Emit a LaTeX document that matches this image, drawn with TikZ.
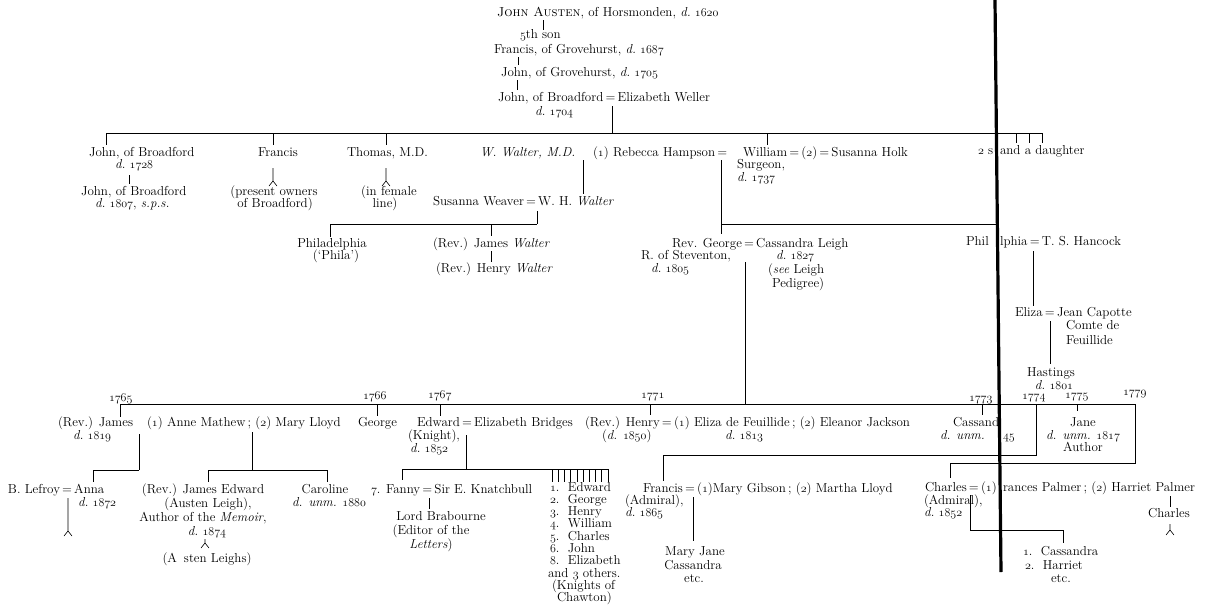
\documentclass[tikz,border=0pt]{standalone}
\newcommand\osn[1]{{\usefont{OML}{cmm}{m}{it}#1}}
\newcommand\dd{\textit{d.}\ }
\tikzset{
  t/.style={anchor=base west, inner sep=0pt, outer sep=0pt},
  tc/.style={anchor=base, inner sep=0pt, outer sep=0pt},
  ln/.style={line width=0.6pt},
  fold/.style={line width=3.2pt, black},
  every node/.style={font=\fontsize{13}{13}\selectfont}
}
\newcommand\fork[3]{\draw[ln] (#1,#2) -- (#1,#3) (#1-4,#3+5) -- (#1,#3) -- (#1+4,#3+5);}
\begin{document}
\begin{tikzpicture}[x=1pt,y=-1pt]
\useasboundingbox (0,0) rectangle (1208,614);
\fill[white] (0,0) rectangle (1208,614);
% ---------- top line ----------
\node[t] (ja) at (497,16) {\textsc{John Austen}, of Horsmonden, \dd\osn{1620}};
\node[t] (fifth) at (520,38) {\osn{5}th son};
\node[t] (frg) at (494,53) {Francis, of Grovehurst, \dd\osn{1687}};
\node[t] (jg) at (501,76) {John, of Grovehurst, \dd\osn{1705}};
\node[t] (jbw) at (498,101) {John, of Broadford\,=\,Elizabeth Weller};
\node[t] (d1704) at (535,115) {\dd\osn{1704}};
\draw[ln] (543,20) -- (543,30);
\draw[ln] (518,57) -- (518,65);
\draw[ln] (517,80) -- (517,90);
\coordinate (wtop) at (612,106);
\coordinate (hl) at (106,133);
\coordinate (hr) at (1042,133);
\draw[ln] (wtop) -- (612,133);
\draw[ln] (hl) -- (hr);
\foreach \x in {106,273,386,767} \draw[ln] (\x,133) -- (\x,145);
\foreach \x in {1016,1029,1042} \draw[ln] (\x,133) -- (\x,143);
% ---------- second generation ----------
\node[t] (jb1) at (89,156) {John, of Broadford};
\node[t] (d1728) at (115,168) {\dd\osn{1728}};
\draw[ln] (129,175) -- (129,184);
\node[t] (jb2) at (81,195) {John, of Broadford};
\node[t] (d1807) at (95,207) {\dd\osn{1807}, \textit{s.p.s.}};
\node[tc] (fra) at (278,156) {Francis};
\fork{273}{168}{181}
\node[tc] (pres) at (274,195) {(present owners};
\node[tc] (ofb) at (275,207) {of Broadford)};
\node[t] (tho) at (347,156) {Thomas, M.D.};
\fork{386}{168}{181}
\node[tc] (infem) at (389,195) {(in female};
\node[tc] (line) at (385,207) {line)};
\node[t] (wwal) at (480,156) {\textit{W. Walter, M.D.}};
\node[t] (reb) at (593,156) {(\osn{1}) Rebecca Hampson\,=};
\node[t] (wil) at (743,156) {William\,=\,(\osn{2})\,=\,Susanna Holk};
\node[t] (surg) at (737,168) {Surgeon,};
\node[t] (d1737) at (737,181) {\dd\osn{1737}};
\node[t] (twos) at (978,154) {\osn{2} s};
\node[t] (daug) at (1000,154) {and a daughter};
% Walter branch
\draw[ln] (583,160) -- (583,194);
\node[t] (susw) at (433,205) {Susanna Weaver\,=\,W. H. \textit{Walter}};
\draw[ln] (537,211) -- (537,224);
\draw[ln] (330,224) -- (537,224);
\draw[ln] (330,224) -- (330,237);
\draw[ln] (491,224) -- (491,236);
\node[tc] (phil) at (332,247) {Philadelphia};
\node[tc] (phila) at (336,259) {(`Phila')};
\node[t] (jwal) at (433,247) {(Rev.) James \textit{Walter}};
\draw[ln] (491,251) -- (491,262);
\node[t] (hwal) at (436,272) {(Rev.) Henry \textit{Walter}};
% Rebecca / William children
\draw[ln] (721,160) -- (721,234);
\draw[ln] (721,224) -- (996,224);
\draw[ln] (996,224) -- (996,234);
\node[t] (geo) at (672,247) {Rev. George\,=\,Cassandra Leigh};
\node[t] (stev) at (641,259) {R. of Steventon,};
\node[t] (d1805) at (651,272) {\dd\osn{1805}};
\node[t] (d1827) at (776,259) {\dd\osn{1827}};
\node[t] (seel) at (768,273) {(\textit{see} Leigh};
\node[t] (pedi) at (772,287) {Pedigree)};
\node[t] (phl1) at (966,245) {Phil};
\node[t] (phl2) at (1000,245) {lphia\,=\,T. S. Hancock};
\draw[ln] (1033,251) -- (1033,306);
\node[t] (eliza) at (1015,316) {Eliza\,=\,Jean Capotte};
\node[t] (comte) at (1066,329) {Comte de};
\node[t] (feui) at (1066,344) {Feuillide};
\draw[ln] (1050,321) -- (1050,364);
\node[tc] (hast) at (1051,376) {Hastings};
\node[tc] (d1801) at (1054,389) {\dd\osn{1801}};
% ---------- George's children ----------
\draw[ln] (745,262) -- (745,404);
\node[t] (y65) at (109,401) {\osn{1765}};
\node[t] (y66) at (363,399) {\osn{1766}};
\node[t] (y67) at (428,398) {\osn{1767}};
\node[t] (y71) at (641,398) {\osn{1771}};
\node[t] (y73) at (969,401) {\osn{1773}};
\node[t] (y74) at (1022,399) {\osn{1774}};
\node[t] (y75) at (1065,398) {\osn{1775}};
\node[t] (y79) at (1123,395) {\osn{1779}};
\draw[ln] (120,404) -- (1135,404);
\foreach \x/\y in {120/417,377/416,440/416,650/415,982/415,1077/411} \draw[ln] (\x,404) -- (\x,\y);
\draw[ln] (1036,404) -- (1036,455) -- (663,455) -- (663,481);
\draw[ln] (1135,404) -- (1135,463) -- (950,463) -- (950,478);
\node[t] (jam) at (58,426) {(Rev.) James};
\node[t] (d1819) at (73,439) {\dd\osn{1819}};
\node[t] (anne) at (147,426) {(\osn{1}) Anne Mathew\,; (\osn{2}) Mary Lloyd};
\node[t] (geo2) at (358,426) {George};
\node[t] (edw) at (417,426) {Edward\,=\,Elizabeth Bridges};
\node[t] (knig) at (408,439) {(Knight),};
\node[t] (d1852) at (410,452) {\dd\osn{1852}};
\node[t] (hen) at (585,426) {(Rev.) Henry\,=\,(\osn{1}) Eliza de Feuillide\,; (\osn{2}) Eleanor Jackson};
\node[t] (d1850) at (602,439) {(\textit{d.} \osn{1850})};
\node[t] (d1813) at (725,439) {\dd\osn{1813}};
\node[t] (cass) at (953,426) {Cassand};
\node[t] (dunm) at (940,439) {\textit{d. unm.}};
\node[t] (c45) at (1003,439) {\osn{45}};
\node[tc] (jane) at (1083,426) {Jane};
\node[tc] (d1817) at (1083,439) {\textit{d. unm.} \osn{1817}};
\node[tc] (auth) at (1083,451) {Author};
% James's children
\draw[ln] (139,434) -- (139,470);
\draw[ln] (93,470) -- (139,470);
\draw[ln] (93,470) -- (93,482);
\draw[ln] (252,432) -- (252,470);
\draw[ln] (208,470) -- (327,470);
\draw[ln] (208,470) -- (208,482);
\draw[ln] (327,470) -- (327,482);
\node[t] (lef) at (8,493) {B. Lefroy\,=\,Anna};
\node[t] (d1872) at (78,506) {\dd\osn{1872}};
\fork{68}{498}{531}
\node[tc] (jed) at (203,493) {(Rev.) James Edward};
\node[tc] (ausl) at (208,507) {(Austen Leigh),};
\node[tc] (memo) at (203,521) {Author of the \textit{Memoir},};
\node[tc] (d1874) at (207,535) {\dd\osn{1874}};
\fork{205}{539}{543}
\node[tc] (asten) at (207,562) {(A\hspace{7pt}sten Leighs)};
\node[tc] (caro) at (325,493) {Caroline};
\node[tc] (d1880) at (329,506) {\textit{d. unm.} \osn{1880}};
% Edward's children
\draw[ln] (466,435) -- (466,469);
\draw[ln] (402,469) -- (608,469);
\draw[ln] (402,469) -- (402,480);
\foreach \i in {0,...,9} \draw[ln] (552+6.2*\i,469) -- (552+6.2*\i,482);
\node[t] (fan) at (371,493) {\osn{7}. Fanny\,=\,Sir E. Knatchbull};
\draw[ln] (429,498) -- (429,509);
\node[tc] (brab) at (441,520) {Lord Brabourne};
\node[tc] (edit) at (431,534) {(Editor of the};
\node[tc] (lett) at (431,548) {\textit{Letters})};
\node[t] (k1) at (550,491) {\osn{1}.\ \ Edward};
\node[t] (k2) at (550,503.3) {\osn{2}.\ \ George};
\node[t] (k3) at (550,515.6) {\osn{3}.\ \ Henry};
\node[t] (k4) at (550,527.9) {\osn{4}.\ \ William};
\node[t] (k5) at (550,540.2) {\osn{5}.\ \ Charles};
\node[t] (k6) at (550,552.5) {\osn{6}.\ \ John};
\node[t] (k8) at (550,564.8) {\osn{8}.\ \ Elizabeth};
\node[t] (k9) at (548,577.1) {and \osn{3} others.};
\node[t] (k10) at (552,589.4) {(Knights of};
\node[t] (k11) at (557,601.7) {Chawton)};
% Francis
\node[t] (fr2) at (643,492) {Francis\,=\,(\osn{1})Mary Gibson\,; (\osn{2}) Martha Lloyd};
\node[t] (adm1) at (625,504) {(Admiral),};
\node[t] (d1865) at (625,516) {\dd\osn{1865}};
\draw[ln] (693,497) -- (693,541);
\node[tc] (mj) at (695,555) {Mary Jane};
\node[tc] (mjc) at (693,569) {Cassandra};
\node[tc] (mje) at (694,582) {etc.};
% Charles
\node[t] (ch) at (925,491) {Charles\,=\,(\osn{1})};
\node[t] (ch2) at (1003,491) {rances Palmer\,; (\osn{2}) Harriet Palmer};
\node[t] (adm2) at (924,504) {(Admiral),};
\node[t] (d1852b) at (924,516) {\dd\osn{1852}};
\draw[ln] (970,495) -- (970,530) -- (1063,530) -- (1063,543);
\node[t] (cc1) at (1023,555) {\osn{1}.\ \ Cassandra};
\node[t] (cc2) at (1025,569) {\osn{2}.\ \ Harriet};
\node[t] (cc3) at (1051,582) {etc.};
\draw[ln] (1170,496) -- (1170,507);
\node[tc] (chc) at (1169,517) {Charles};
\fork{1170}{524}{530}
% fold of the page
\coordinate (fa) at (995,0);
\coordinate (fb) at (1001,572);
\draw[fold] (fa) -- (fb);
\end{tikzpicture}
\end{document}
